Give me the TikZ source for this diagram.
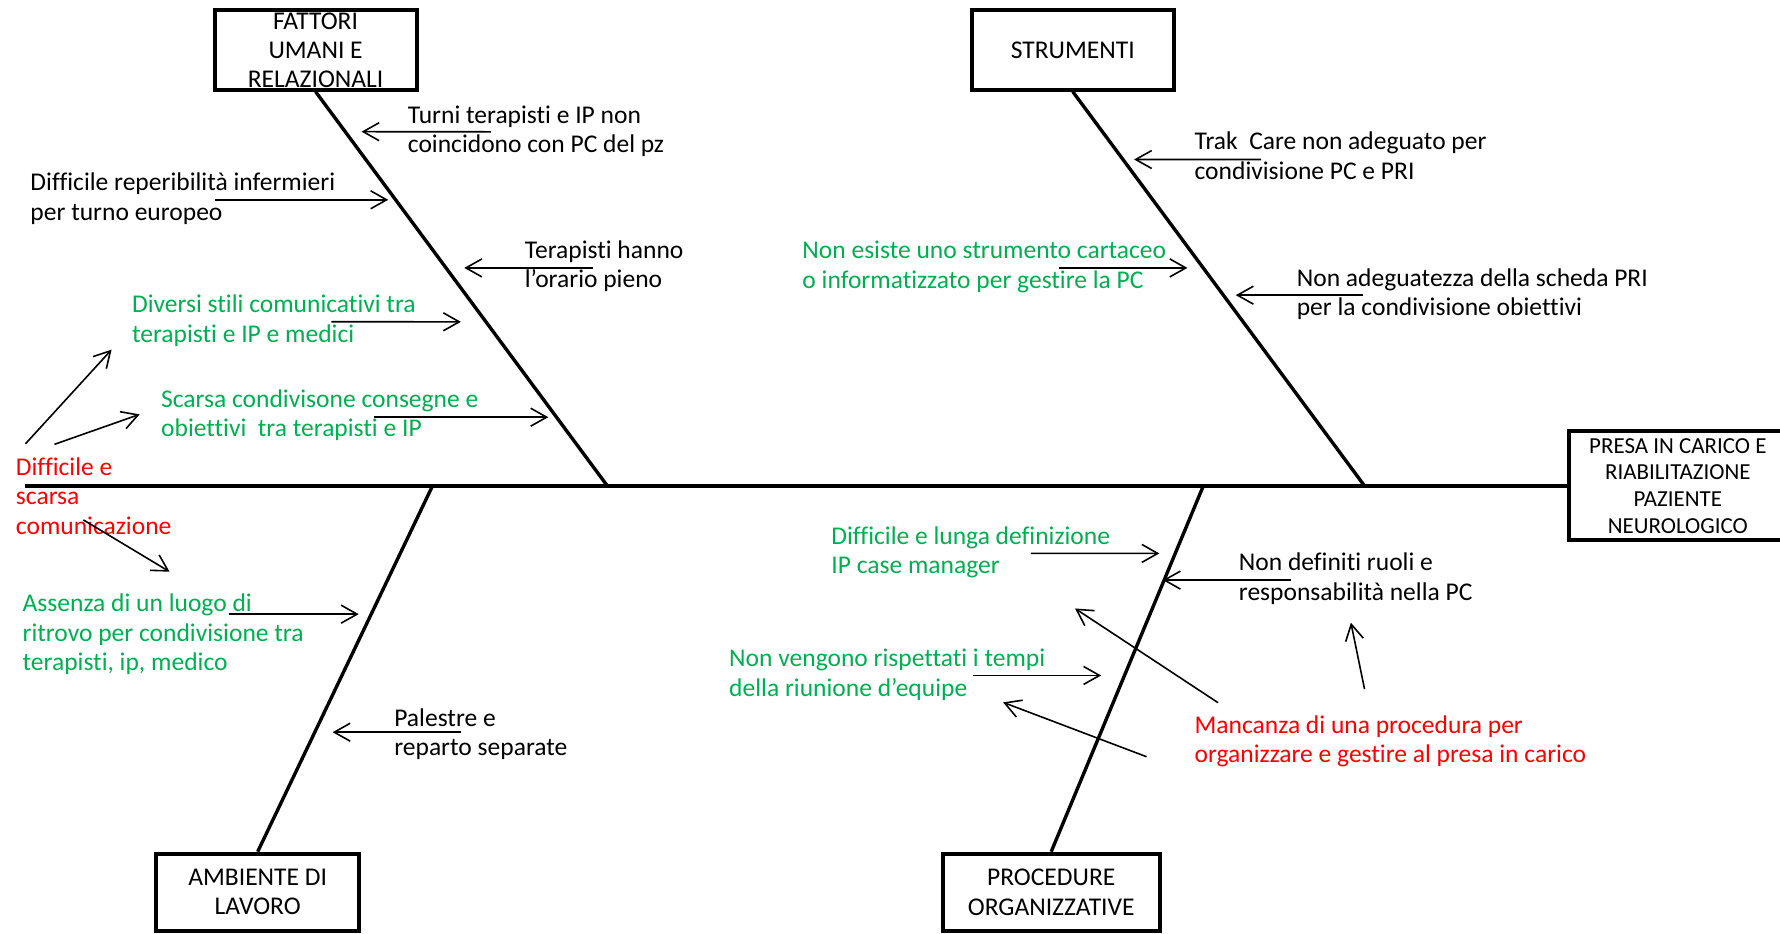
\documentclass[tikz,border=0pt]{standalone}
\usepackage{fontspec}
\setmainfont{Carlito}[Ligatures={NoCommon,NoContextual}]
\usetikzlibrary{arrows.meta}
\definecolor{causegreen}{RGB}{0,176,80}
\definecolor{causered}{RGB}{255,0,0}

\begin{document}
\begin{tikzpicture}[x=0.02cm,y=-0.02cm,
    catbox/.style={draw,line width=2pt,minimum width=3.56cm,minimum height=1.4cm,inner sep=0pt},
    cattext/.style={align=center,inner sep=0pt,font=\fontsize{12.8}{14.6}\selectfont},
    bone/.style={line width=1.7pt},
    cause/.style={anchor=base west,align=left,inner sep=0pt,font=\fontsize{12.8}{14.8}\selectfont},
    verde/.style={text=causegreen},
    rosso/.style={text=causered},
    freccia/.style={-{Straight Barb[length=8pt,width=9pt]},line width=0.8pt}]

    \useasboundingbox (0,0) rectangle (1568,822);

    %head and backbone
    \node[draw,line width=2pt,minimum width=3.84cm,minimum height=1.92cm,inner sep=0pt,align=center,
          font=\fontsize{11.5}{13.3}\selectfont] (effetto) at (1478,428)
          {PRESA IN CARICO E\\RIABILITAZIONE\\PAZIENTE\\NEUROLOGICO};
    \coordinate (coda) at (22,428);
    \draw[line width=2pt] (coda) -- (effetto.west);

    %category boxes
    \node[catbox] (fattoribox) at (278,44) {};
    \node[cattext] (fattori) at (fattoribox) {FATTORI\\UMANI E\\RELAZIONALI};
    \node[catbox] (strumentibox) at (945,44) {};
    \node[cattext] (strumenti) at (strumentibox) {STRUMENTI};
    \node[catbox,minimum width=3.58cm,minimum height=1.36cm] (ambientebox) at (227,786) {};
    \node[cattext] (ambiente) at (ambientebox) {AMBIENTE DI\\LAVORO};
    \node[catbox,minimum width=3.82cm,minimum height=1.36cm] (procedurebox) at (926,786) {};
    \node[cattext] (procedure) at (procedurebox) {PROCEDURE\\ORGANIZZATIVE};

    %bones
    \coordinate (fj) at (535,428);
    \coordinate (sj) at (1202,428);
    \coordinate (aj) at (381,428);
    \coordinate (pj) at (1060,428);
    \draw[bone] (fattoribox.south) -- (fj);
    \draw[bone] (strumentibox.south) -- (sj);
    \draw[bone] (ambientebox.north) -- (aj);
    \draw[bone] (procedurebox.north) -- (pj);

    %fattori umani e relazionali
    \node[cause] (turni) at (359,134.7) {Turni terapisti e IP non\\coincidono con PC del pz};
    \coordinate (turni-p) at (318.5,116);
    \draw[freccia] ([shift={(73.5,-18.6)}]turni.base west) -- (turni-p);

    \node[cause] (reperib) at (26.5,194.1) {Difficile reperibilità infermieri\\per turno europeo};
    \coordinate (reperib-p) at (342,176);
    \draw[freccia] ([shift={(162.5,-18.1)}]reperib.base west) -- (reperib-p);

    \node[cause] (orario) at (462,253.6) {Terapisti hanno\\l’orario pieno};
    \coordinate (orario-p) at (409,236);
    \draw[freccia] ([shift={(60,-17.6)}]orario.base west) -- (orario-p);

    \node[cause,verde] (stili) at (116,301.5) {Diversi stili comunicativi tra\\terapisti e IP e medici};
    \coordinate (stili-p) at (406,283.5);
    \draw[freccia] ([shift={(176,-18.1)}]stili.base west) -- (stili-p);

    \node[cause,verde] (consegne) at (141.6,384.9) {Scarsa condivisone consegne e\\obiettivi~ tra terapisti e IP};
    \coordinate (consegne-p) at (483,367.5);
    \draw[freccia] ([shift={(188,-17.4)}]consegne.base west) -- (consegne-p);

    %difficile e scarsa comunicazione
    \node[cause,rosso] (comunic) at (13.7,470.6) {Difficile e\\scarsa\\comunicazione};
    \coordinate (com-a) at (98.3,308);
    \coordinate (com-b) at (123,365);
    \coordinate (com-c) at (149.4,503.6);
    \draw[freccia] ([shift={(8.7,-79.6)}]comunic.base west) -- (com-a);
    \draw[freccia] ([shift={(34.3,-79.2)}]comunic.base west) -- (com-b);
    \draw[freccia] ([shift={(59.8,-12.6)}]comunic.base west) -- (com-c);

    %ambiente di lavoro
    \node[cause,verde] (luogo) at (19.6,591) {Assenza di un luogo di\\ritrovo per condivisione tra\\terapisti, ip, medico};
    \coordinate (luogo-p) at (316,541);
    \draw[freccia] ([shift={(182.4,-50)}]luogo.base west) -- (luogo-p);

    \node[cause] (palestre) at (347,665.6) {Palestre e\\reparto separate};
    \coordinate (palestre-p) at (293,645);
    \draw[freccia] ([shift={(59,-20.6)}]palestre.base west) -- (palestre-p);

    %strumenti
    \node[cause] (trak) at (1052,158.1) {Trak~ Care non adeguato per\\condivisione PC e PRI};
    \coordinate (trak-p) at (999,140.5);
    \draw[freccia] ([shift={(59,-17.6)}]trak.base west) -- (trak-p);

    \node[cause,verde] (cartaceo) at (706.5,253.7) {Non esiste uno strumento cartaceo\\o informatizzato per gestire la PC};
    \coordinate (cartaceo-p) at (1046,236);
    \draw[freccia] ([shift={(226.5,-17.7)}]cartaceo.base west) -- (cartaceo-p);

    \node[cause] (scheda) at (1142,278.1) {Non adeguatezza della scheda PRI\\per la condivisione obiettivi};
    \coordinate (scheda-p) at (1088.6,260);
    \draw[freccia] ([shift={(59,-18.1)}]scheda.base west) -- (scheda-p);

    %procedure organizzative
    \node[cause,verde] (manager) at (732,505.3) {Difficile e lunga definizione\\IP case manager};
    \coordinate (manager-p) at (1021.3,487.5);
    \draw[freccia] ([shift={(176,-17.8)}]manager.base west) -- (manager-p);

    \node[cause] (ruoli) at (1091,528.8) {Non definiti ruoli e\\responsabilità nella PC};
    \coordinate (ruoli-p) at (1024.3,511);
    \draw[freccia] ([shift={(46,-17.8)}]ruoli.base west) -- (ruoli-p);

    \node[cause,verde] (riunione) at (642,613.4) {Non vengono rispettati i tempi\\della riunione d’equipe};
    \coordinate (riunione-p) at (970,595);
    \draw[freccia] ([shift={(215,-18.4)}]riunione.base west) -- (riunione-p);

    %mancanza di una procedura
    \node[cause,rosso] (mancanza) at (1052,672.1) {Mancanza di una procedura per\\organizzare e gestire al presa in carico};
    \coordinate (manc-a) at (947,536);
    \coordinate (manc-b) at (883.6,618.7);
    \coordinate (manc-c) at (1190,548.5);
    \draw[freccia] ([shift={(21,-53.1)}]mancanza.base west) -- (manc-a);
    \draw[freccia] ([shift={(-42,-5.5)}]mancanza.base west) -- (manc-b);
    \draw[freccia] ([shift={(150,-65.1)}]mancanza.base west) -- (manc-c);
\end{tikzpicture}
\end{document}
